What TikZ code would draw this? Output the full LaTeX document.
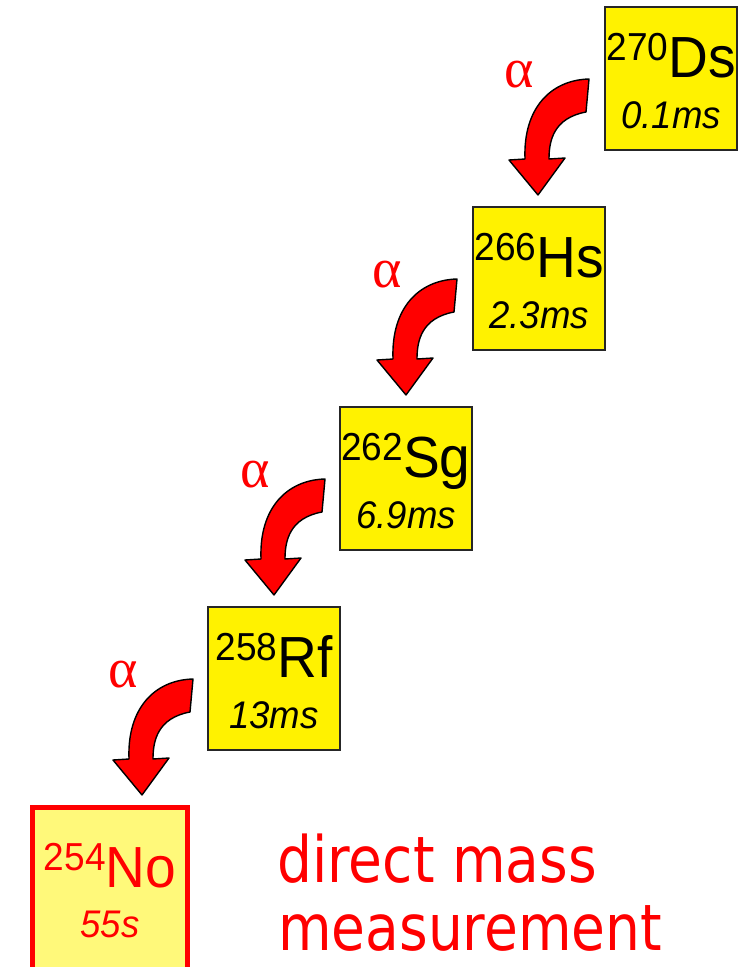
\documentclass[tikz,border=0pt]{standalone}
\usepackage{fontspec}
\setmainfont{Liberation Sans}
\newfontfamily\boxfont[FakeStretch=0.95]{Liberation Sans}
\newfontfamily\notefont[FakeStretch=0.86]{DejaVu Sans}
\newfontfamily\greekfont{Liberation Serif}
\definecolor{nored}{RGB}{255,0,0}
\definecolor{noyellow}{RGB}{255,249,122}
% 核種名（質量数を左肩に）
\newcommand{\nucl}[2]{{\boxfont\raisebox{17pt}{\fontsize{39}{39}\selectfont #1}\fontsize{58}{58}\selectfont #2}}
\newcommand{\life}[1]{{\boxfont\itshape\fontsize{38.5}{38.5}\selectfont #1}}

\begin{document}
\begin{tikzpicture}[x=1pt, y=-1pt,
    elem/.style={draw=black!85, line width=1.5pt, fill=yellow, minimum width=132pt, minimum height=143pt, inner sep=0pt},
    noelem/.style={draw=nored, line width=5pt, fill=noyellow, minimum width=155pt, minimum height=180pt, inner sep=0pt},
    decay/.style={draw=black, line width=1.4pt, fill=nored, line join=round},
    every node/.style={inner sep=0pt}]
    \useasboundingbox (0,0) rectangle (748,967);

    % 崩壊系列の各核種（箱・名前・半減期）
    \foreach \x/\y/\m/\e/\t/\n in {605/7/270/Ds/0.1ms/ds, 473/207/266/Hs/2.3ms/hs,
        340/407/262/Sg/6.9ms/sg, 208/607/258/Rf/13ms/rf} {
      \node[elem] (\n) at (\x+66,\y+71.5) {};
      \node[anchor=base] (\n-name) at (\x+66,\y+70) {\nucl{\m}{\e}};
      \node[anchor=base] (\n-life) at (\x+66,\y+121) {\life{\t}};
    }

    % 終点 254No（直接質量測定）
    \node[noelem] (no) at (110,897.5) {};
    \node[anchor=base, text=nored] (no-name) at (110,887) {\nucl{254}{No}};
    \node[anchor=base, text=nored] (no-life) at (110,937) {\life{55s}};

    % alpha 崩壊の矢印
    \foreach \k in {0,...,3} {
      \begin{scope}[shift={(132*\k,-200*\k)}]
        \draw[decay] (193,679) -- (190,712) .. controls (158,718) and (153,740) .. (153,759)
          -- (169,758) -- (142,795) -- (113,760) -- (129,759)
          .. controls (127,708) and (155,680) .. (193,679) -- cycle;
        \node[anchor=base, text=nored] (a\k) at (123,687) {\greekfont\fontsize{56}{56}\selectfont α};
      \end{scope}
    }

    % 注記
    \node[anchor=base west, text=nored, align=left] (note) at (277,882)
      {\notefont\fontsize{64}{68}\selectfont direct mass};
    \node[anchor=base west, text=nored] (note2) at (278,950)
      {\notefont\fontsize{64}{68}\selectfont measurement};
\end{tikzpicture}
\end{document}
